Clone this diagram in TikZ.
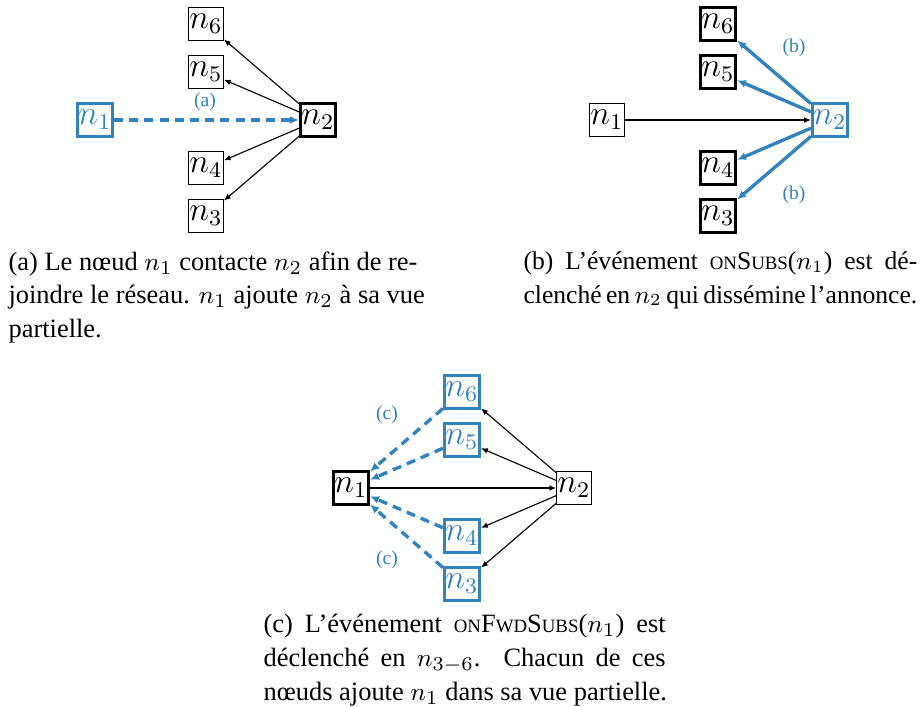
\documentclass[tikz,border=0pt]{standalone}
\usepackage{fontspec}
\setmainfont{Liberation Serif}
\usetikzlibrary{arrows.meta}
\definecolor{nblue}{RGB}{49,130,189}
\newcommand\fsc[1]{{\fontsize{6.7}{8}\selectfont #1}}
\newcommand\jline[2]{\makebox[#1][s]{#2}}
\tikzset{
  nd/.style={draw,thin,inner sep=0.3pt,minimum size=11.8pt,font=\large},
  hot/.style={nd,very thick},
  hotblue/.style={nd,very thick,draw=nblue,text=nblue},
  edge/.style={-{Latex[length=2.4pt,width=2pt]},thin},
  bedge/.style={-{Latex[length=3.2pt,width=2.8pt]},very thick,draw=nblue,fill=nblue},
  dedge/.style={bedge,dash pattern=on 3.2pt off 2.2pt},
  lbl/.style={text=nblue,font=\scriptsize},
  captxt/.style={anchor=north west,inner sep=0pt,align=left,font=\fontsize{9.4}{12}\selectfont}
}
\begin{document}
\begin{tikzpicture}[x=0.0125cm,y=-0.0125cm]
\useasboundingbox (0,0) rectangle (922,706);
% (a)
\begin{scope}
\node [hotblue] (a1) at (95,120) {$n_1$};
\node [hot] (a2) at (318,120) {$n_2$};
\node [nd] (a6) at (206,24) {$n_6$};
\node [nd] (a5) at (206,72) {$n_5$};
\node [nd] (a4) at (206,168) {$n_4$};
\node [nd] (a3) at (206,216) {$n_3$};
\draw [dedge] (a1) -- (a2);
\draw [edge] (a2) -- (a6);
\draw [edge] (a2) -- (a5);
\draw [edge] (a2) -- (a4);
\draw [edge] (a2) -- (a3);
\node [lbl] (la) at (205,102) {(a)};
\node [captxt] (capa) at (8,251) {(a) Le n\oe ud $n_1$ contacte $n_2$ afin de re-\\joindre le r\'eseau. $n_1$ ajoute $n_2$ \`a sa vue\\partielle.};
\end{scope}
% (b)
\begin{scope}[xshift=512*0.0125cm]
\node [nd] (b1) at (95,120) {$n_1$};
\node [hotblue] (b2) at (318,120) {$n_2$};
\node [hot] (b6) at (206,24) {$n_6$};
\node [hot] (b5) at (206,72) {$n_5$};
\node [hot] (b4) at (206,168) {$n_4$};
\node [hot] (b3) at (206,216) {$n_3$};
\draw [edge] (b1) -- (b2);
\draw [bedge] (b2) -- (b6);
\draw [bedge] (b2) -- (b5);
\draw [bedge] (b2) -- (b4);
\draw [bedge] (b2) -- (b3);
\node [lbl] (lb1) at (282,48) {(b)};
\node [lbl] (lb2) at (282,195) {(b)};
\end{scope}
\node [captxt,font=\fontsize{9.1}{12}\selectfont] (capb) at (523,251) {\jline{140pt}{(b) L'\'ev\'enement \fsc{ON}S\fsc{UBS}($n_1$) est d\'e-}\\\jline{140pt}{clench\'e en $n_2$ qui diss\'emine l'annonce.}};
% (c)
\begin{scope}[xshift=256*0.0125cm,yshift=-368*0.0125cm]
\node [hot] (c1) at (95,120) {$n_1$};
\node [nd] (c2) at (318,120) {$n_2$};
\node [hotblue] (c6) at (206,24) {$n_6$};
\node [hotblue] (c5) at (206,72) {$n_5$};
\node [hotblue] (c4) at (206,168) {$n_4$};
\node [hotblue] (c3) at (206,216) {$n_3$};
\draw [edge] (c1) -- (c2);
\draw [edge] (c2) -- (c6);
\draw [edge] (c2) -- (c5);
\draw [edge] (c2) -- (c4);
\draw [edge] (c2) -- (c3);
\draw [dedge] (c6) -- (c1);
\draw [dedge] (c5) -- (c1);
\draw [dedge] (c4) -- (c1);
\draw [dedge] (c3) -- (c1);
\node [lbl] (lc1) at (131,47) {(c)};
\node [lbl] (lc2) at (131,192) {(c)};
\end{scope}
\node [captxt] (capc) at (263,614) {\jline{143pt}{(c) L'\'ev\'enement \fsc{ON}F\fsc{WD}S\fsc{UBS}($n_1$) est}\\\jline{143pt}{d\'eclench\'e en $n_{3-6}$. Chacun de ces}\\n\oe uds ajoute $n_1$ dans sa vue partielle.};
\end{tikzpicture}
\end{document}
